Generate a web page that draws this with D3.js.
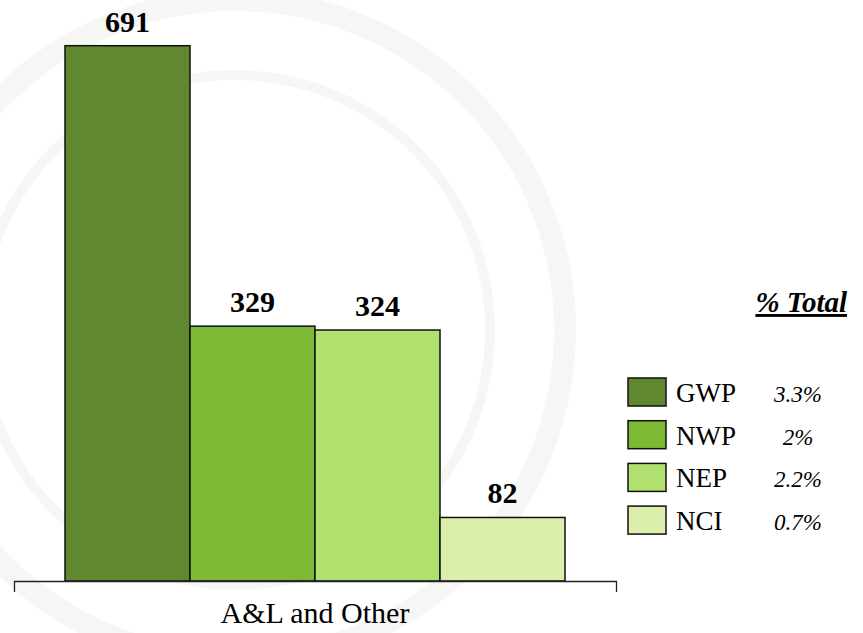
<!DOCTYPE html>
<html>
<head>
<meta charset="utf-8">
<script src="https://cdn.jsdelivr.net/npm/d3@7"></script>
<style>
  body { margin: 0; background: #fff; }
</style>
</head>
<body>
<div id="vis"></div>
<script>
// data
let categories = ['A&L and Other'];
let series = ['GWP', 'NWP', 'NEP', 'NCI'];
let values = [691, 329, 324, 82];
let shares = ['3.3%', '2%', '2.2%', '0.7%'];
let colors = ['#61882e', '#7db935', '#b0e06e', '#dbeeab'];

let width = 863, height = 633;
let serif = '"Liberation Serif", "DejaVu Serif", "Times New Roman", serif';

let svg = d3.select('#vis')
  .append('svg')
  .attr('width', width)
  .attr('height', height)
  .attr('font-family', serif)
  .style('display', 'block');

// faint seal watermark in the background
let mark = svg.append('g').attr('fill', 'none').attr('stroke', '#f6f7f5');
mark.append('circle').attr('cx', 235).attr('cy', 330).attr('r', 330).attr('stroke-width', 22);
mark.append('circle').attr('cx', 235).attr('cy', 330).attr('r', 255).attr('stroke-width', 10);

let baseY = 581;

let x0 = d3.scaleBand()
  .domain(categories)
  .range([14, 616])
  .paddingInner(0)
  .paddingOuter(0.102);

let x1 = d3.scaleBand()
  .domain(series)
  .range([0, x0.bandwidth()]);

let y = d3.scaleLinear()
  .domain([0, 750])
  .range([baseY, 0]);

// bars
let groups = svg.selectAll('g.cat')
  .data(categories)
  .join('g')
  .attr('class', 'cat')
  .attr('transform', d => `translate(${x0(d)},0)`);

groups.selectAll('rect')
  .data(series.map((s, i) => ({ s, v: values[i], c: colors[i] })))
  .join('rect')
  .attr('x', d => x1(d.s))
  .attr('y', d => y(d.v))
  .attr('width', x1.bandwidth())
  .attr('height', d => y(0) - y(d.v))
  .attr('fill', d => d.c)
  .attr('stroke', '#111')
  .attr('stroke-width', 1.5);

groups.selectAll('text.val')
  .data(series.map((s, i) => ({ s, v: values[i] })))
  .join('text')
  .attr('class', 'val')
  .attr('x', d => x1(d.s) + x1.bandwidth() / 2)
  .attr('y', d => y(d.v) - 14)
  .attr('text-anchor', 'middle')
  .attr('font-family', serif)
  .attr('font-size', 30)
  .attr('font-weight', 'bold')
  .attr('fill', '#000')
  .text(d => d.v);

// category axis
let axis = svg.append('g')
  .attr('transform', `translate(0,${baseY})`)
  .call(d3.axisBottom(x0).tickSizeInner(0).tickSizeOuter(11).tickPadding(21));

axis.attr('font-family', serif);
axis.select('.domain').attr('stroke', '#222').attr('stroke-width', 1.3);
axis.selectAll('.tick text')
  .attr('font-family', serif)
  .attr('font-size', 30)
  .attr('fill', '#000');

// legend
let legend = svg.append('g');

legend.append('text')
  .attr('x', 847)
  .attr('y', 312)
  .attr('text-anchor', 'end')
  .attr('font-family', serif)
  .attr('font-size', 29)
  .attr('font-weight', 'bold')
  .attr('font-style', 'italic')
  .attr('text-decoration', 'underline')
  .text('% Total');

let items = legend.selectAll('g.item')
  .data(series.map((s, i) => ({ s, c: colors[i], p: shares[i] })))
  .join('g')
  .attr('class', 'item')
  .attr('transform', (d, i) => `translate(628,${378 + i * 42.7})`);

items.append('rect')
  .attr('width', 38)
  .attr('height', 28)
  .attr('fill', d => d.c)
  .attr('stroke', '#111')
  .attr('stroke-width', 1.5);

items.append('text')
  .attr('x', 48)
  .attr('y', 24)
  .attr('font-family', serif)
  .attr('font-size', 27)
  .attr('fill', '#000')
  .text(d => d.s);

items.append('text')
  .attr('x', 170)
  .attr('y', 24)
  .attr('text-anchor', 'middle')
  .attr('font-family', serif)
  .attr('font-size', 23)
  .attr('font-style', 'italic')
  .attr('fill', '#000')
  .text(d => d.p);
</script>
</body>
</html>
